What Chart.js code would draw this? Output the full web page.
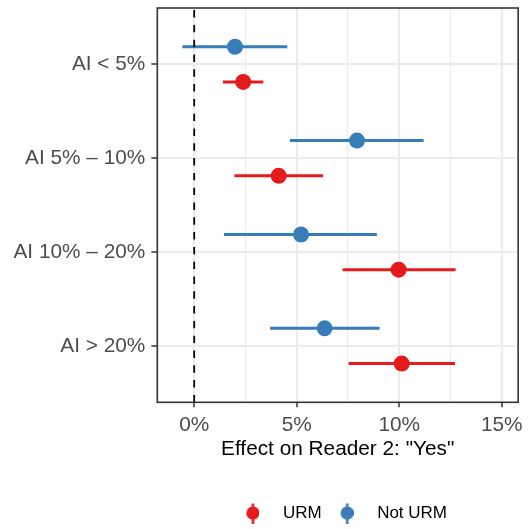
<!DOCTYPE html>
<html>
<head>
<meta charset="utf-8">
<script src="https://cdn.jsdelivr.net/npm/chart.js@4"></script>
<style>
  html, body { margin: 0; padding: 0; background: #ffffff; }
  #wrap { width: 528px; height: 529px; }
  canvas { display: block; }
</style>
</head>
<body>
<div id="wrap"><canvas id="chart" width="528" height="529"></canvas></div>
<script>
// AI-share bins (top to bottom) and the two reader groups
const categories = ['AI < 5%', 'AI 5% \u2013 10%', 'AI 10% \u2013 20%', 'AI > 20%'];
const seriesNames = ['URM', 'Not URM'];

// Estimated effect (percentage points) with confidence interval bounds
const urmEstimate = [2.39, 4.12, 9.97, 10.12];
const urmLower    = [1.40, 1.96, 7.24, 7.53];
const urmUpper    = [3.37, 6.29, 12.75, 12.72];

const notUrmEstimate = [1.99, 7.94, 5.21, 6.36];
const notUrmLower    = [-0.58, 4.67, 1.45, 3.70];
const notUrmUpper    = [4.54, 11.19, 8.91, 9.04];

// Axis ticks and limits
const xTickValues = [0, 2.5, 5, 7.5, 10, 12.5, 15];
const xTickLabels = ['0%', '', '5%', '', '10%', '', '15%'];
const xLimits = [-1.8, 15.8];
const yLimits = [0.4, 4.6];
const referenceValue = 0;
const xAxisTitle = 'Effect on Reader 2: "Yes"';

// Styling
const FONT = "'Liberation Sans', Arial, Helvetica, sans-serif";
const RED = '#E41A1C';
const BLUE = '#377EB8';
const GRID = '#EBEBEB';
const INK = '#333333';
const DODGE = 0.1875;

// Build point data for one group: category i sits at value i + 1, shifted by the dodge
function pointData(est, shift) {
  return est.map((v, i) => ({ x: v, y: i + 1 + shift }));
}
// Interval segments separated by gaps so each range is its own line
function rangeData(lo, hi, shift) {
  const out = [];
  lo.forEach((v, i) => {
    out.push({ x: v, y: i + 1 + shift });
    out.push({ x: hi[i], y: i + 1 + shift });
    out.push({ x: null, y: null });
  });
  return out;
}

// Legend key: point with a vertical range line through it
function legendKey(color) {
  const c = document.createElement('canvas');
  c.width = 16; c.height = 24;
  const g = c.getContext('2d');
  const cx = 9.5;
  g.strokeStyle = color;
  g.lineWidth = 2.6;
  g.beginPath(); g.moveTo(cx, 1); g.lineTo(cx, 23); g.stroke();
  g.fillStyle = color;
  g.beginPath(); g.arc(cx, 12, 6.6, 0, Math.PI * 2); g.fill();
  return c;
}

// Outline of the plotting panel, drawn above the data
const panelBorder = {
  id: 'panelBorder',
  afterDatasetsDraw(chart) {
    const { ctx, chartArea: a } = chart;
    ctx.save();
    ctx.strokeStyle = INK;
    ctx.lineWidth = 1.6;
    ctx.strokeRect(a.left, a.top, a.right - a.left, a.bottom - a.top);
    ctx.restore();
  }
};

const groupColors = [RED, BLUE];
const groupShift = [DODGE, -DODGE];

new Chart(document.getElementById('chart'), {
  type: 'scatter',
  data: {
    datasets: [
      {
        label: 'reference',
        data: [{ x: referenceValue, y: yLimits[1] }, { x: referenceValue, y: yLimits[0] }],
        showLine: true,
        borderColor: '#000000',
        borderWidth: 1.8,
        borderDash: [7.4, 7.4],
        pointRadius: 0
      },
      {
        label: seriesNames[0],
        data: pointData(urmEstimate, groupShift[0]),
        backgroundColor: RED,
        borderWidth: 0,
        pointRadius: 8
      },
      {
        label: seriesNames[1],
        data: pointData(notUrmEstimate, groupShift[1]),
        backgroundColor: BLUE,
        borderWidth: 0,
        pointRadius: 8
      },
      {
        label: seriesNames[0] + ' range',
        data: rangeData(urmLower, urmUpper, groupShift[0]),
        showLine: true,
        spanGaps: false,
        borderColor: RED,
        borderWidth: 3,
        pointRadius: 0
      },
      {
        label: seriesNames[1] + ' range',
        data: rangeData(notUrmLower, notUrmUpper, groupShift[1]),
        showLine: true,
        spanGaps: false,
        borderColor: BLUE,
        borderWidth: 3,
        pointRadius: 0
      }
    ]
  },
  options: {
    responsive: false,
    animation: false,
    devicePixelRatio: 1,
    events: [],
    layout: { padding: { top: 5.5, right: 9.7, bottom: -2.5, left: 0 } },
    scales: {
      x: {
        type: 'linear',
        min: xLimits[0],
        max: xLimits[1],
        afterBuildTicks: s => { s.ticks = xTickValues.map(v => ({ value: v })); },
        afterFit: s => { s.height = 101.2; },
        ticks: {
          callback: (v, i) => xTickLabels[i],
          autoSkip: false,
          maxRotation: 0,
          padding: 5,
          color: '#4D4D4D',
          font: { family: FONT, size: 20.8 }
        },
        grid: {
          color: GRID,
          lineWidth: c => (xTickLabels[c.index] ? 2 : 1.1),
          tickLength: 5,
          tickWidth: 1.5,
          tickColor: c => (xTickLabels[c.index] ? INK : 'rgba(0,0,0,0)')
        },
        border: { display: false },
        title: {
          display: true,
          text: xAxisTitle,
          color: '#000000',
          font: { family: FONT, size: 20.8 },
          padding: { top: 0, bottom: 42 }
        }
      },
      y: {
        type: 'linear',
        reverse: true,
        min: yLimits[0],
        max: yLimits[1],
        afterBuildTicks: s => { s.ticks = categories.map((_, i) => ({ value: i + 1 })); },
        afterFit: s => { s.width = 157.3; s.paddingTop = 0; s.paddingBottom = 0; },
        ticks: {
          callback: v => categories[v - 1],
          autoSkip: false,
          padding: 6,
          color: '#4D4D4D',
          font: { family: FONT, size: 20.8 }
        },
        grid: {
          color: GRID,
          lineWidth: 2,
          tickLength: 6,
          tickWidth: 1.5,
          tickColor: INK
        },
        border: { display: false }
      }
    },
    plugins: {
      tooltip: { enabled: false },
      legend: {
        position: 'bottom',
        fullSize: false,
        labels: {
          usePointStyle: true,
          pointStyleWidth: 46,
          padding: 1,
          color: '#000000',
          font: { family: FONT, size: 17 },
          generateLabels: () => seriesNames.map((name, i) => ({
            text: name,
            pointStyle: legendKey(groupColors[i]),
            fillStyle: groupColors[i],
            strokeStyle: groupColors[i],
            lineWidth: 0,
            hidden: false,
            datasetIndex: i + 1
          }))
        }
      }
    }
  },
  plugins: [panelBorder]
});
</script>
</body>
</html>
